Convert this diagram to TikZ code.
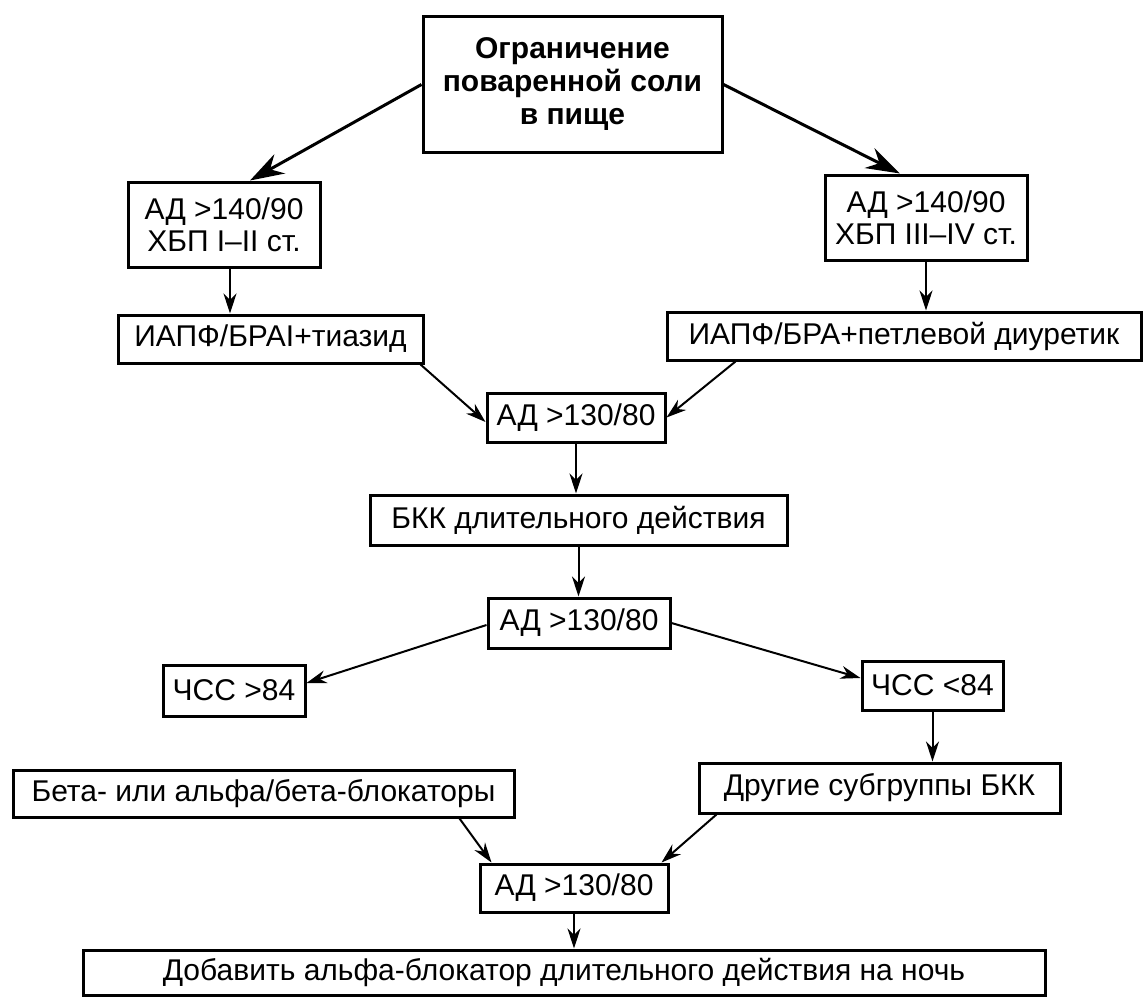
\documentclass[tikz,border=0pt]{standalone}
\usepackage{fontspec}
\setmainfont{Liberation Sans}
\usetikzlibrary{arrows.meta,calc}
\begin{document}
\begin{tikzpicture}[x=1pt,y=-1pt,
  box/.style={draw=black,line width=3pt,inner sep=0pt,align=center,
    font=\fontsize{30}{32}\selectfont},
  arr/.style={draw=black,line width=2pt,-{Stealth[length=20pt,width=13pt]}},
  bigarr/.style={draw=black,line width=3pt,-{Stealth[length=34pt,width=22pt]}}]
\useasboundingbox (0,0) rectangle (1143,998);
\node[box,minimum width=299pt,minimum height=135pt,font=\fontsize{30}{33}\selectfont\bfseries] (top) at (572.5,84.5) {Ограничение\\поваренной соли\\в пище};
\node[box,minimum width=192pt,minimum height=85pt] (L1) at (224,224.5) {АД >140/90\\ХБП I–II ст.};
\node[box,minimum width=202pt,minimum height=85pt] (R1) at (926,217.5) {АД >140/90\\ХБП III–IV ст.};
\node[box,minimum width=305pt,minimum height=48pt] (L2) at (270.5,339) {ИАПФ/БРАI+тиазид};
\node[box,minimum width=474pt,minimum height=48pt] (R2) at (904,336) {ИАПФ/БРА+петлевой диуретик};
\node[box,minimum width=178pt,minimum height=49pt] (A1) at (576,417.5) {АД >130/80};
\node[box,minimum width=417pt,minimum height=50pt] (BKK) at (578.5,520) {БКК длительного действия};
\node[box,minimum width=182pt,minimum height=50pt] (A2) at (579,623) {АД >130/80};
\node[box,minimum width=142pt,minimum height=51pt] (HR1) at (234,690.5) {ЧСС >84};
\node[box,minimum width=141pt,minimum height=49pt] (HR2) at (932.5,685.5) {ЧСС <84};
\node[box,minimum width=501pt,minimum height=47pt] (Beta) at (263.5,793.5) {Бета- или альфа/бета-блокаторы};
\node[box,minimum width=361pt,minimum height=50pt] (Other) at (879.5,788) {Другие субгруппы БКК};
\node[box,minimum width=188pt,minimum height=48pt] (A3) at (574,888) {АД >130/80};
\node[box,minimum width=962pt,minimum height=45pt] (Bot) at (564,972.5) {Добавить альфа-блокатор длительного действия на ночь};

\draw[bigarr] (top.west) -- ([xshift=26pt]L1.north);
\draw[bigarr] (top.east) -- ([xshift=-26pt]R1.north);
\draw[arr] ([xshift=6pt]L1.south) -- ([xshift=6pt]L1.south |- L2.north);
\draw[arr] (R1.south) -- (R1.south |- R2.north);
\draw[arr] ([xshift=-4pt]L2.south east) -- ([yshift=-4.5pt]A1.west);
\draw[arr] ([xshift=70pt]R2.south west) -- (A1.east);
\draw[arr] (A1.south) -- (A1.south |- BKK.north);
\draw[arr] (BKK.south) -- (BKK.south |- A2.north);
\draw[arr] ([yshift=-2pt]A2.west) -- ([yshift=7.5pt]HR1.east);
\draw[arr] (A2.east) -- ([yshift=7.5pt]HR2.west);
\draw[arr] (HR2.south) -- (HR2.south |- Other.north);
\draw[arr] ([xshift=-56pt]Beta.south east) -- ([xshift=13pt]A3.north west);
\draw[arr] ([xshift=19pt]Other.south west) -- ([xshift=-8pt]A3.north east);
\draw[arr] (A3.south) -- (A3.south |- Bot.north);
\end{tikzpicture}
\end{document}
